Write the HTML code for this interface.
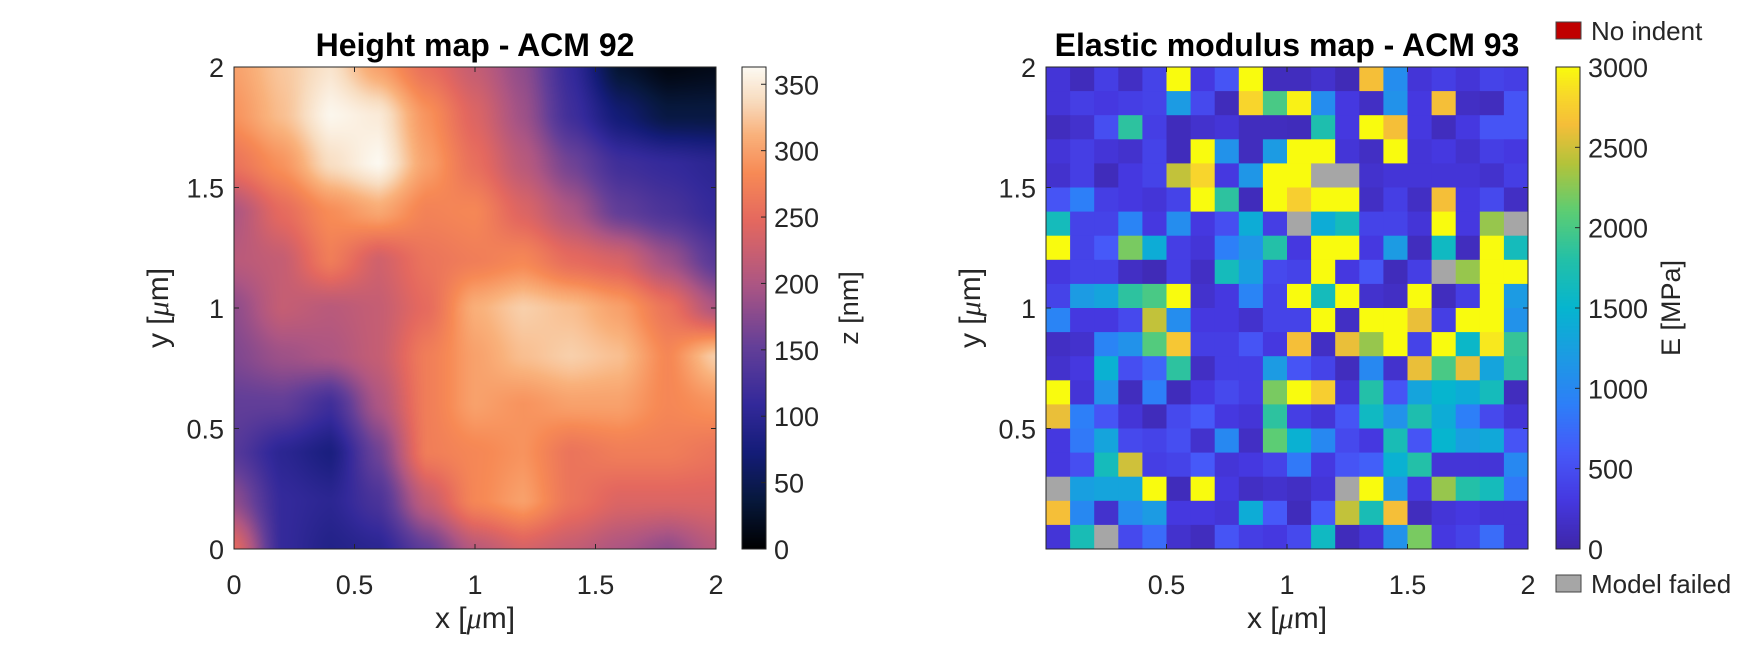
<!DOCTYPE html>
<html><head><meta charset="utf-8"><title>AFM maps</title>
<style>
html,body{margin:0;padding:0;background:#fff;}
#wrap{position:relative;width:1750px;height:656px;overflow:hidden;font-family:"Liberation Sans",sans-serif;}
svg{position:absolute;left:0;top:0;}
canvas{position:absolute;}
</style></head><body>
<div id="wrap">
<canvas id="hcan" width="482" height="482" style="left:234px;top:67px"></canvas>
<canvas id="hbar" width="24" height="482" style="left:742px;top:67px"></canvas>
<canvas id="ebar" width="24" height="482" style="left:1556px;top:67px"></canvas>
<svg id="svg" width="1750" height="656" xmlns="http://www.w3.org/2000/svg">
  <g id="emap"></g>
  <g id="axes"></g>
</svg>
</div>
<script>
// ---------- data ----------
const hX = [0,0.2,0.4,0.6,0.8,1.0,1.2,1.4,1.6,1.8,2.0];
const hY = [2.0,1.8,1.6,1.4,1.2,1.0,0.8,0.6,0.4,0.2,0.0];
const heightRows = [
 [300,325,345,300,255,220,180,110,30,10,15],
 [290,320,360,350,290,240,190,120,70,40,40],
 [260,290,340,362,300,255,210,160,120,110,100],
 [200,250,285,305,275,280,240,200,150,130,110],
 [210,220,270,230,260,270,280,250,235,190,140],
 [180,220,210,220,250,310,330,320,300,260,200],
 [170,190,200,220,270,300,320,330,320,280,330],
 [150,150,120,200,270,300,290,300,300,280,290],
 [140,100,80,160,270,280,290,260,270,270,260],
 [180,110,100,130,220,280,300,260,240,240,240],
 [250,110,90,100,150,210,235,220,200,180,210]
];
const hTicks = [0,50,100,150,200,250,300,350];
const hMax = 363;
const axisTicks = [0,0.5,1,1.5,2];
const eTicksXY = [0.5,1,1.5,2];
const eTicks = [0,500,1000,1500,2000,2500,3000];
const Y = 3200, F = null;
const modulusRows = [
 [250,100,350,150,400,Y,300,550,Y,120, 120,200,80,2650,1050,250,350,250,400,350],
 [250,350,300,350,400,1200,450,100,2800,2000, 2950,1050,300,150,1100,300,2650,150,120,550],
 [120,200,500,1850,350,100,200,250,120,120, 100,1750,300,Y,2650,300,120,300,550,550],
 [250,350,250,200,400,100,Y,1100,120,1200, Y,Y,250,150,Y,250,300,200,350,300],
 [200,350,100,300,400,2450,2800,300,1150,Y, Y,F,F,200,250,250,250,250,200,350],
 [550,900,350,300,250,400,Y,1850,100,Y, 2750,Y,Y,150,350,150,2650,300,450,150],
 [1650,400,400,950,300,1050,300,500,1400,350, F,1400,1650,400,400,250,Y,300,2300,F],
 [Y,400,600,2200,1400,350,250,900,1150,1800, 300,Y,Y,300,1200,120,1600,120,Y,1650],
 [300,400,400,150,80,350,150,1650,1250,450, 400,Y,300,550,100,350,F,2300,Y,Y],
 [400,1200,1300,1850,2000,Y,200,300,950,400, Y,1650,Y,200,150,Y,120,350,Y,1200],
 [950,300,300,450,2450,1050,300,300,200,400, 400,Y,150,Y,Y,2600,350,Y,Y,1100],
 [150,200,950,1100,2050,2700,350,350,550,300, 2650,150,2600,2300,Y,400,Y,1550,2900,1900],
 [200,300,1450,500,700,1850,150,350,350,1200, 550,400,120,1000,200,2600,2000,2600,1300,1850],
 [Y,250,1100,120,900,100,300,450,350,2200, Y,2750,250,1800,550,1300,1500,1400,1650,120],
 [2600,900,550,250,100,450,600,300,250,1850, 350,250,550,1600,1100,1750,1400,900,450,250],
 [300,850,1300,450,400,500,200,1000,150,2100, 1450,1000,450,300,1700,550,1500,1250,1350,550],
 [300,500,1650,2500,350,400,600,250,300,400, 850,300,550,650,1450,1800,250,250,250,1000],
 [F,1250,1300,1300,Y,100,Y,300,150,200, 150,250,F,Y,1150,300,2300,1800,1650,850],
 [2650,1000,200,1050,1200,300,300,250,1400,600, 100,600,2450,1700,2650,120,250,300,250,250],
 [250,1700,F,450,750,200,120,550,350,300, 450,1600,100,250,1100,2200,300,400,750,250]
];

// ---------- geometry ----------
const L = {x:234,y:67,s:482}, R = {x:1046,y:67,s:482};
const lx = v => L.x + v/2*L.s, ly = v => L.y + (1 - v/2)*L.s;
const rx = v => R.x + v/2*R.s, ry = v => R.y + (1 - v/2)*R.s;
const NS = 'http://www.w3.org/2000/svg';
const axesG = document.getElementById('axes');
const emapG = document.getElementById('emap');
function mk(tag, attrs, parent){const e=document.createElementNS(NS,tag);for(const k in attrs)e.setAttribute(k,attrs[k]);(parent||axesG).appendChild(e);return e;}

// ---------- colormaps ----------
function hex(h){return [parseInt(h.slice(1,3),16),parseInt(h.slice(3,5),16),parseInt(h.slice(5,7),16)];}
function interp(stops,t){t=Math.max(0,Math.min(1,t));for(let i=1;i<stops.length;i++){if(t<=stops[i][0]){const a=stops[i-1],b=stops[i];const f=(t-a[0])/(b[0]-a[0]);const ca=hex(a[1]),cb=hex(b[1]);return ca.map((c,j)=>Math.round(c+(cb[j]-c)*f));}}return hex(stops[stops.length-1][1]);}
const thermStops=[[0,'#000000'],[0.1,'#07183c'],[0.2,'#141c78'],[0.3,'#33299a'],[0.42,'#643f98'],[0.55,'#ad5683'],[0.68,'#e4685f'],[0.78,'#f78a55'],[0.86,'#f9b27c'],[0.93,'#f8dcbf'],[1,'#fcfaf3']];
const parStops=[[0,'#3e26a8'],[0.1,'#4538e0'],[0.2,'#4659f9'],[0.3,'#2d7ff8'],[0.4,'#1c9be3'],[0.5,'#06b5cf'],[0.6,'#23c0a8'],[0.7,'#5ccd74'],[0.8,'#b4c33a'],[0.88,'#f5be39'],[0.94,'#f8d82a'],[1,'#f9fb0e']];

// ---------- left height map ----------
(function(){
  const c=document.getElementById('hcan'),ctx=c.getContext('2d'),img=ctx.createImageData(482,482);
  const n=heightRows.length;
  for(let py=0;py<482;py++){
    const gy=(py+0.5)/482*(n-1);const i0=Math.min(n-2,Math.floor(gy));const fy=gy-i0;
    for(let px=0;px<482;px++){
      const gx=(px+0.5)/482*(hX.length-1);const j0=Math.min(hX.length-2,Math.floor(gx));const fx=gx-j0;
      const sx=fx*fx*(3-2*fx)*0.5+fx*0.5, sy=fy*fy*(3-2*fy)*0.5+fy*0.5;
      const v=(heightRows[i0][j0]*(1-sx)+heightRows[i0][j0+1]*sx)*(1-sy)+(heightRows[i0+1][j0]*(1-sx)+heightRows[i0+1][j0+1]*sx)*sy;
      const col=interp(thermStops,v/hMax);const k=(py*482+px)*4;
      img.data[k]=col[0];img.data[k+1]=col[1];img.data[k+2]=col[2];img.data[k+3]=255;
    }
  }
  ctx.putImageData(img,0,0);
  const b=document.getElementById('hbar').getContext('2d');
  for(let y=0;y<482;y++){const col=interp(thermStops,1-(y+0.5)/482);b.fillStyle=`rgb(${col})`;b.fillRect(0,y,24,1);}
  const e=document.getElementById('ebar').getContext('2d');
  for(let y=0;y<482;y++){const col=interp(parStops,1-(y+0.5)/482);e.fillStyle=`rgb(${col})`;e.fillRect(0,y,24,1);}
})();

// ---------- right modulus map ----------
const nr=modulusRows.length, nc=modulusRows[0].length;
const cw=R.s/nc, ch=R.s/nr;
modulusRows.forEach((row,r)=>{row.forEach((v,c)=>{
  const fill = v===null ? '#a6a6a6' : `rgb(${interp(parStops,v/3000)})`;
  const rect=mk('rect',{x:(R.x+c*cw).toFixed(2),y:(R.y+r*ch).toFixed(2),width:(cw+0.4).toFixed(2),height:(ch+0.4).toFixed(2),fill:fill},emapG);
  
  
});});

// ---------- axes ----------
const TC='#262626';
const FS=27, FL=30, FT=32, FC=27;
function text(x,y,str,opts){const t=mk('text',Object.assign({x:x,y:y,fill:TC,'font-size':FS,'font-family':'Liberation Sans, sans-serif'},opts||{}));t.textContent=str;return t;}
function drawAxes(A,fx,fy,xt,yt,pre){
  const f=mk('rect',{x:A.x,y:A.y,width:A.s,height:A.s,fill:'none',stroke:TC,'stroke-width':1});
  
  
  xt.forEach(v=>{const X=fx(v);
    mk('line',{x1:X,x2:X,y1:A.y+A.s,y2:A.y+A.s-5,stroke:TC});
    mk('line',{x1:X,x2:X,y1:A.y,y2:A.y+5,stroke:TC});
    const t=text(X,594,String(v),{'text-anchor':'middle'});
    
    
  });
  yt.forEach(v=>{const Yp=fy(v);
    mk('line',{x1:A.x,x2:A.x+5,y1:Yp,y2:Yp,stroke:TC});
    mk('line',{x1:A.x+A.s,x2:A.x+A.s-5,y1:Yp,y2:Yp,stroke:TC});
    const t=text(A.x-10,Yp+10,String(v),{'text-anchor':'end'});
    
    
  });
  const xl=mk('text',{x:A.x+A.s/2,y:628,'text-anchor':'middle',fill:TC,'font-size':FL,'font-family':'Liberation Sans, sans-serif'});
  xl.innerHTML='x [<tspan font-style="italic" font-family="Liberation Serif, serif">μ</tspan>m]';
  
  
  const cy=A.y+A.s/2, cx=A.x-66;
  const yl=mk('text',{x:cx,y:cy,'text-anchor':'middle',fill:TC,'font-size':FL,'font-family':'Liberation Sans, sans-serif',transform:`rotate(-90 ${cx} ${cy})`});
  yl.innerHTML='y [<tspan font-style="italic" font-family="Liberation Serif, serif">μ</tspan>m]';
  
  
}
drawAxes(L,lx,ly,axisTicks,axisTicks,'height');
drawAxes(R,rx,ry,eTicksXY,eTicksXY,'modulus');

const t1=text(L.x+L.s/2,56,'Height map - ACM 92',{'text-anchor':'middle','font-weight':'bold','font-size':FT,fill:'#000'});


const t2=text(R.x+R.s/2,56,'Elastic modulus map - ACM 93',{'text-anchor':'middle','font-weight':'bold','font-size':FT,fill:'#000'});



// colorbars
function colorbar(x0,ticks,max,label,pre,off){
  const f=mk('rect',{x:x0,y:67,width:24,height:482,fill:'none',stroke:TC});
  
  
  ticks.forEach(v=>{const Yp=67+(1-v/max)*482;
    mk('line',{x1:x0+24,x2:x0+19,y1:Yp,y2:Yp,stroke:TC});
    const t=text(x0+32,Yp+10,String(v));
    
    
  });
  const cx=x0+off, cy=308;
  const l=text(cx,cy,label,{'text-anchor':'middle','font-size':FC,transform:`rotate(-90 ${cx} ${cy})`});
  
  
}
colorbar(742,hTicks,hMax,'z [nm]','height',116);
colorbar(1556,eTicks,3000,'E [MPa]','modulus',124);

// legend patches
const ni=mk('rect',{x:1556,y:22,width:25,height:17,fill:'#c00000',stroke:'#444'});


const nit=text(1591,40,'No indent',{'font-size':26});


const mf=mk('rect',{x:1556,y:575,width:25,height:17,fill:'#a6a6a6',stroke:'#444'});


const mft=text(1591,593,'Model failed',{'font-size':26});


</script>
</body></html>
